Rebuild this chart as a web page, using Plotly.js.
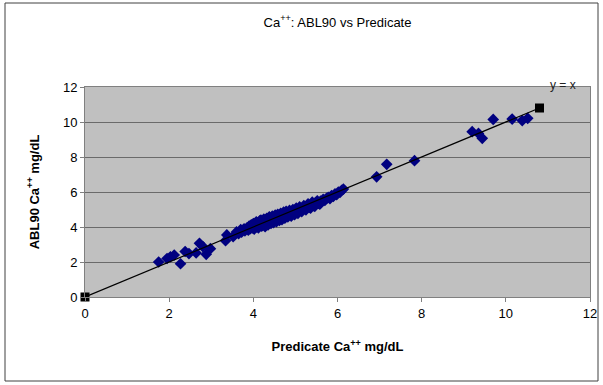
<!DOCTYPE html>
<html><head><meta charset="utf-8">
<script src="https://cdn.plot.ly/plotly-3.0.1.min.js"></script>
<style>html,body{margin:0;padding:0;background:#fff;}#chart{width:603px;height:385px;}</style>
</head><body><div id="chart"></div>
<script>
// Predicate (x) vs ABL90 (y) Ca++ mg/dL
const predicate = [1.75,1.95,2.03,2.12,2.27,2.38,2.47,2.64,2.72,2.80,2.88,2.98,3.34,3.37,3.52,
3.60,3.65,3.70,3.72,3.78,3.80,3.85,3.88,3.90,3.93,3.95,3.98,4.00,4.02,4.05,4.07,4.08,4.10,4.12,4.15,4.17,4.18,4.20,4.22,4.25,4.27,4.28,4.30,4.32,4.33,4.35,4.37,4.38,4.40,4.42,4.43,4.45,4.47,4.48,4.50,4.52,4.53,4.55,4.57,4.58,4.60,4.62,4.63,4.65,4.67,4.68,4.70,4.72,4.73,4.75,4.77,4.78,4.80,4.82,4.84,4.86,4.88,4.90,4.92,4.94,4.96,4.98,5.00,5.02,5.04,5.06,5.08,5.10,5.12,5.15,5.18,5.20,5.22,5.25,5.28,5.30,5.33,5.36,5.38,5.40,5.43,5.46,5.48,5.52,5.55,5.58,5.60,5.62,5.66,5.70,5.74,5.78,5.82,5.86,5.90,5.94,5.98,6.02,6.06,6.10,6.14,
6.93,7.17,7.83,9.20,9.35,9.44,9.70,10.15,10.39,10.52];
const abl90 = [2.00,2.20,2.30,2.40,1.90,2.60,2.48,2.52,3.07,2.88,2.44,2.76,3.22,3.55,3.45,
3.72,3.62,3.85,3.70,3.90,3.78,3.95,3.82,4.05,3.90,4.12,3.95,4.20,3.88,4.10,4.30,4.00,4.22,3.95,4.35,4.12,4.40,4.05,4.25,4.45,4.18,4.02,4.38,4.50,4.25,4.12,4.45,4.58,4.30,4.20,4.52,4.62,4.38,4.25,4.55,4.68,4.42,4.30,4.60,4.72,4.48,4.38,4.65,4.78,4.55,4.42,4.70,4.85,4.60,4.50,4.75,4.90,4.65,4.58,4.82,4.95,4.72,4.62,4.88,5.00,4.80,4.70,4.95,5.08,4.88,4.78,5.02,5.15,4.95,4.88,5.10,5.22,5.05,4.98,5.20,5.32,5.12,5.08,5.30,5.42,5.22,5.18,5.40,5.50,5.35,5.30,5.48,5.45,5.58,5.52,5.64,5.70,5.62,5.80,5.75,5.89,5.85,6.00,5.98,6.10,6.17,
6.87,7.58,7.79,9.45,9.35,9.07,10.15,10.17,10.08,10.21];
const identityX = [0, 10.8];
const identityY = [0, 10.8];
const tickVals = [0,2,4,6,8,10,12];
const titleText = 'Ca<sup>++</sup>: ABL90 vs Predicate';
const xTitle = '<b>Predicate Ca<sup>++</sup> mg/dL</b>';
const yTitle = '<b>ABL90 Ca<sup>++</sup> mg/dL</b>';
const lineLabel = 'y = x';

const font = 'Arial, "Liberation Sans", sans-serif';
const L = 85, R = 13, T = 87, B = 88, W = 603, H = 385;
const pw = W - L - R, ph = H - T - B;
const px = v => (v - L) / pw, py = v => (H - B - v) / ph;

const data = [
  {x: predicate, y: abl90, type: 'scatter', mode: 'markers',
   marker: {symbol: 'diamond', size: 9, color: '#000080'}, hoverinfo: 'x+y'},
  {x: identityX, y: identityY, type: 'scatter', mode: 'lines+markers', cliponaxis: false,
   line: {color: '#000000', width: 1.2},
   marker: {symbol: 'square', size: 9, color: '#000000'}}
];
const layout = {
  width: W, height: H, showlegend: false,
  margin: {l: L, r: R, t: T, b: B, pad: 0},
  paper_bgcolor: '#ffffff', plot_bgcolor: '#c0c0c0',
  font: {family: font, size: 13, color: '#000'},
  title: {text: titleText, x: 0.5, xref: 'paper', xanchor: 'center', y: 1 - 22/H, yanchor: 'middle', font: {family: font, size: 13, color: '#000'}},
  xaxis: {range: [0, 12], tickvals: tickVals, ticks: 'outside', ticklen: 4, tickcolor: '#808080',
    showgrid: false, zeroline: false, showline: true, linecolor: '#808080', mirror: true,
    tickfont: {size: 13}, title: {text: xTitle, font: {size: 13}, standoff: 22}},
  yaxis: {range: [0, 12], tickvals: tickVals, ticks: 'outside', ticklen: 4, tickcolor: '#808080',
    showgrid: true, gridcolor: '#6a6a6a', gridwidth: 1, zeroline: false, showline: true, linecolor: '#808080', mirror: true,
    tickfont: {size: 13}, title: {text: yTitle, font: {size: 13}, standoff: 20}},
  annotations: [{x: identityX[1], y: identityY[1], xref: 'x', yref: 'y', text: lineLabel, showarrow: false,
    xshift: 23, yshift: 23, font: {family: font, size: 12, color: '#222'}}],
  shapes: [{type: 'rect', xref: 'paper', yref: 'paper', x0: px(5), x1: px(598), y0: py(381), y1: py(3),
    line: {color: '#404040', width: 1}, fillcolor: 'rgba(0,0,0,0)', layer: 'below'}]
};
Plotly.newPlot('chart', data, layout, {displayModeBar: false, staticPlot: true});
</script></body></html>
